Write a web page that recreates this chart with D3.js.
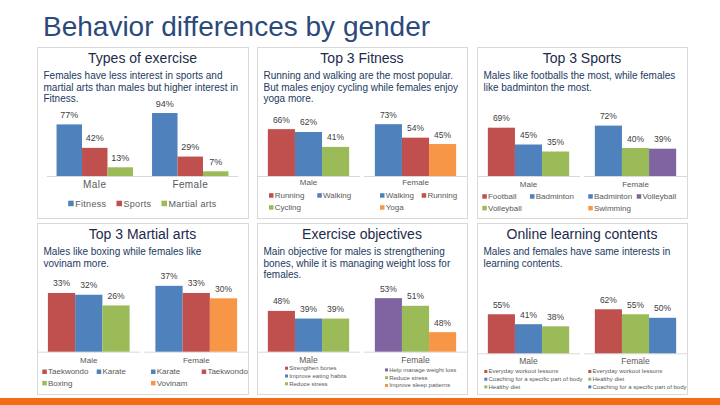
<!DOCTYPE html>
<html><head><meta charset="utf-8">
<script src="https://cdn.jsdelivr.net/npm/d3@7/dist/d3.min.js"></script>
<style>
html,body{margin:0;padding:0;background:#fff;}
svg{display:block;font-family:"Liberation Sans",Arial,Helvetica,sans-serif;}
</style></head><body>
<svg id="chart" width="720" height="405"></svg>
<script>
// ================= DATA =================
const mainTitle = "Behavior differences by gender";
const genders = ["Male", "Female"];

const exerciseTypes = ["Fitness", "Sports", "Martial arts"];
const exerciseMale = [77, 42, 13];
const exerciseFemale = [94, 29, 7];

const fitnessMaleNames = ["Running", "Walking", "Cycling"];
const fitnessMaleValues = [66, 62, 41];
const fitnessFemaleNames = ["Walking", "Running", "Yoga"];
const fitnessFemaleValues = [73, 54, 45];

const sportsMaleNames = ["Football", "Badminton", "Volleyball"];
const sportsMaleValues = [69, 45, 35];
const sportsFemaleNames = ["Badminton", "Volleyball", "Swimming"];
const sportsFemaleValues = [72, 40, 39];

const martialMaleNames = ["Taekwondo", "Karate", "Boxing"];
const martialMaleValues = [33, 32, 26];
const martialFemaleNames = ["Karate", "Taekwondo", "Vovinam"];
const martialFemaleValues = [37, 33, 30];

const objMaleNames = ["Strengthen bones", "Improve eating habits", "Reduce stress"];
const objMaleValues = [48, 39, 39];
const objFemaleNames = ["Help manage weight loss", "Reduce stress", "Improve sleep patterns"];
const objFemaleValues = [63, 54, 23];          // bar heights as drawn
const objFemaleLabels = ["53%", "51%", "48%"];  // labels as printed

const onlineMaleNames = ["Everyday workout lessons", "Coaching for a specific part of body", "Healthy diet"];
const onlineMaleValues = [55, 41, 38];
const onlineFemaleNames = ["Everyday workout lessons", "Healthy diet", "Coaching for a specific part of body"];
const onlineFemaleValues = [62, 55, 50];

const panelTitles = ["Types of exercise", "Top 3 Fitness", "Top 3 Sports",
                     "Top 3 Martial arts", "Exercise objectives", "Online learning contents"];
const panelSubtitles = [
  ["Females have less interest in sports and", "martial arts than males but higher interest in", "Fitness."],
  ["Running and walking are the most popular.", "But males enjoy cycling while females enjoy", "yoga more."],
  ["Males like footballs the most, while females", "like badminton the most."],
  ["Males like boxing while females like", "vovinam more."],
  ["Main objective for males is strengthening", "bones, while it is managing weight loss for", "females."],
  ["Males and females have same interests in", "learning contents."]
];

// ================= STYLE / LAYOUT =================
const C = {blue:"#4F81BD", red:"#C0504D", green:"#9BBB59", purple:"#8064A2", orange:"#F79646"};
const svg = d3.select("#chart");

svg.append("rect").attr("x",0).attr("y",0).attr("width",720).attr("height",405).attr("fill","#fff");
svg.append("text").attr("x",43).attr("y",36).attr("font-size",28).attr("fill","#2b4a7b").text(mainTitle);
svg.append("rect").attr("x",0).attr("y",398).attr("width",720).attr("height",7).attr("fill","#F36C14");

const panelX = [37, 257, 477], panelY = [47, 223], panelW = [211, 210, 210], panelH = 171;

function panelBox(i){
  const x = panelX[i%3], y = panelY[Math.floor(i/3)], w = panelW[i%3];
  const g = svg.append("g");
  g.append("rect").attr("x",x+0.5).attr("y",y+0.5).attr("width",w).attr("height",panelH)
    .attr("fill","#fff").attr("stroke","#d9d9d9").attr("stroke-width",1);
  g.append("text").attr("x",x+w/2).attr("y",y+16).attr("text-anchor","middle")
    .attr("font-size",14).attr("fill","#1c2b4a").text(panelTitles[i]);
  g.selectAll(".sub").data(panelSubtitles[i]).join("text")
    .attr("x",x+6.5).attr("y",(d,j)=>y+32+j*11.5).attr("font-size",10).attr("fill","#213a5f").text(d=>d);
  return {g, x, y, w};
}

function legend(g, names, colors, cols, y0, rowH, fs, sq){
  const n = cols.length;
  const it = g.selectAll(null).data(names).join("g")
    .attr("transform",(d,j)=>`translate(${cols[j%n]},${y0 + Math.floor(j/n)*rowH})`);
  it.append("rect").attr("x",0).attr("y",-sq-0.3).attr("width",sq).attr("height",sq).attr("fill",(d,j)=>colors[j]);
  it.append("text").attr("x",sq+1.2).attr("y",0).attr("font-size",fs).attr("fill","#595959").text(d=>d);
}

function subChart(g, o){
  const x = d3.scaleBand().domain(d3.range(o.values.length)).range([o.x0,o.x1]).paddingInner(0).paddingOuter(0.4);
  const y = d3.scaleLinear().domain([0,100]).range([o.base, o.base - 100*o.k]);
  g.append("line").attr("x1",o.x0).attr("x2",o.x1).attr("y1",o.base+0.5).attr("y2",o.base+0.5)
    .attr("stroke","#d9d9d9").attr("stroke-width",1);
  g.selectAll(null).data(o.values).join("rect")
    .attr("x",(d,j)=>x(j)).attr("width",x.bandwidth())
    .attr("y",d=>y(d)).attr("height",d=>y(0)-y(d)).attr("fill",(d,j)=>o.barColors[j]);
  g.selectAll(null).data(o.values).join("text")
    .attr("x",(d,j)=>x(j)+x.bandwidth()/2).attr("y",d=>y(d)-6.5).attr("text-anchor","middle")
    .attr("font-size",o.lfs).attr("fill","#404040")
    .text((d,j)=>o.labels ? o.labels[j] : d + "%");
  g.append("text").attr("x",(o.x0+o.x1)/2).attr("y",o.catY).attr("text-anchor","middle")
    .attr("font-size",o.cfs).attr("fill","#595959").text(o.cat);
  legend(g, o.legendNames, o.legendColors, o.cols, o.legY, o.rowH, o.legFs, o.sq);
}

// ---------- Panel 1 : grouped ----------
(function(){
  const {g} = panelBox(0);
  const base = 176, k = 0.67;
  const x0 = d3.scaleBand().domain(genders).range([47,238]).paddingInner(0.2).paddingOuter(0.1);
  const x1 = d3.scaleBand().domain(exerciseTypes).range([0,x0.bandwidth()]);
  const y = d3.scaleLinear().domain([0,100]).range([base, base-100*k]);
  const colors = [C.blue, C.red, C.green];
  const rows = genders.map((gd,gi)=>({gender:gd, vals: gi===0 ? exerciseMale : exerciseFemale}));
  g.append("line").attr("x1",47).attr("x2",238).attr("y1",base+0.5).attr("y2",base+0.5).attr("stroke","#d9d9d9");
  const gg = g.selectAll(null).data(rows).join("g").attr("transform",d=>`translate(${x0(d.gender)},0)`);
  gg.selectAll("rect").data(d=>d.vals).join("rect")
    .attr("x",(d,j)=>x1(exerciseTypes[j])).attr("width",x1.bandwidth())
    .attr("y",d=>y(d)).attr("height",d=>y(0)-y(d)).attr("fill",(d,j)=>colors[j]);
  gg.selectAll("text").data(d=>d.vals).join("text")
    .attr("x",(d,j)=>x1(exerciseTypes[j])+x1.bandwidth()/2).attr("y",d=>y(d)-6.5)
    .attr("text-anchor","middle").attr("font-size",9).attr("fill","#404040").text(d=>d+"%");
  g.selectAll(null).data(genders).join("text")
    .attr("x",d=>x0(d)+x0.bandwidth()/2).attr("y",188).attr("text-anchor","middle")
    .attr("font-size",10).attr("fill","#595959").attr("letter-spacing",0.4).text(d=>d);
  // centered legend
  const lg = g.append("g");
  const items = lg.selectAll(null).data(exerciseTypes).join("g");
  items.append("rect").attr("width",5.5).attr("height",5.5).attr("y",-6).attr("fill",(d,j)=>colors[j]);
  items.append("text").attr("x",7).attr("y",0).attr("font-size",9).attr("fill","#595959").attr("letter-spacing",0.3).text(d=>d);
  let cx = 0; const pos = [];
  items.each(function(){ pos.push(cx); cx += this.getBBox().width + 10; });
  const total = cx - 10;
  items.attr("transform",(d,j)=>`translate(${142.5 - total/2 + pos[j]},206.7)`);
})();

// ---------- Panels 2-6 : split ----------
const splitSpecs = [
  {i:1, base:176, k:0.71, catY:185, legY:[198,198], rowH:12, cols:[[269,317.3],[380,421.7]], legFs:8, sq:4.5, lfs:8.5, cfs:8,
   male:{values:fitnessMaleValues, names:fitnessMaleNames, barColors:[C.red,C.blue,C.green], legendColors:[C.red,C.blue,C.green]},
   female:{values:fitnessFemaleValues, names:fitnessFemaleNames, barColors:[C.blue,C.red,C.orange], legendColors:[C.blue,C.red,C.orange]}},
  {i:2, base:176, k:0.70, catY:186.5, legY:[199,199], rowH:11.7, cols:[[482.3,530],[588.3,636.7]], legFs:8, sq:4.5, lfs:8.5, cfs:8,
   male:{values:sportsMaleValues, names:sportsMaleNames, barColors:[C.red,C.blue,C.green], legendColors:[C.red,C.blue,C.green]},
   female:{values:sportsFemaleValues, names:sportsFemaleNames, barColors:[C.blue,C.green,C.purple], legendColors:[C.blue,C.purple,C.orange]}},
  {i:3, base:351.7, k:1.78, catY:362.7, legY:[374.3,374.3], rowH:11.4, cols:[[42.3,96.7],[151,201.7]], legFs:8, sq:4.5, lfs:8.5, cfs:8,
   male:{values:martialMaleValues, names:martialMaleNames, barColors:[C.red,C.blue,C.green], legendColors:[C.red,C.blue,C.green]},
   female:{values:martialFemaleValues, names:martialFemaleNames, barColors:[C.blue,C.red,C.orange], legendColors:[C.blue,C.red,C.orange]}},
  {i:4, base:351.7, k:0.85, catY:362.5, legY:[370,371.7], rowH:7.8, cols:[[285],[385]], legFs:6, sq:3, lfs:8.5, cfs:8.5,
   male:{values:objMaleValues, names:objMaleNames, barColors:[C.red,C.blue,C.green], legendColors:[C.red,C.blue,C.green]},
   female:{values:objFemaleValues, labels:objFemaleLabels, names:objFemaleNames, barColors:[C.purple,C.green,C.orange], legendColors:[C.purple,C.green,C.orange]}},
  {i:5, base:353.3, k:0.71, catY:363.5, legY:[373.3,373.3], rowH:7.7, cols:[[484.3],[588.3]], legFs:6, sq:3, lfs:8.5, cfs:8.5,
   male:{values:onlineMaleValues, names:onlineMaleNames, barColors:[C.red,C.blue,C.green], legendColors:[C.red,C.blue,C.green]},
   female:{values:onlineFemaleValues, names:onlineFemaleNames, barColors:[C.red,C.green,C.blue], legendColors:[C.red,C.green,C.blue]}}
];

splitSpecs.forEach(s=>{
  const {g, x, w} = panelBox(s.i);
  const ranges = [[x, x + w/2 - 2], [x + w/2 + 2, x + w]];
  [s.male, s.female].forEach((d, gi)=>{
    subChart(g, {
      x0: ranges[gi][0], x1: ranges[gi][1], base: s.base, k: s.k,
      values: d.values, labels: d.labels, barColors: d.barColors,
      cat: genders[gi], catY: s.catY, cfs: s.cfs, lfs: s.lfs,
      legendNames: d.names, legendColors: d.legendColors,
      cols: s.cols[gi], legY: s.legY[gi], rowH: s.rowH, legFs: s.legFs, sq: s.sq
    });
  });
});
</script>
</body></html>
